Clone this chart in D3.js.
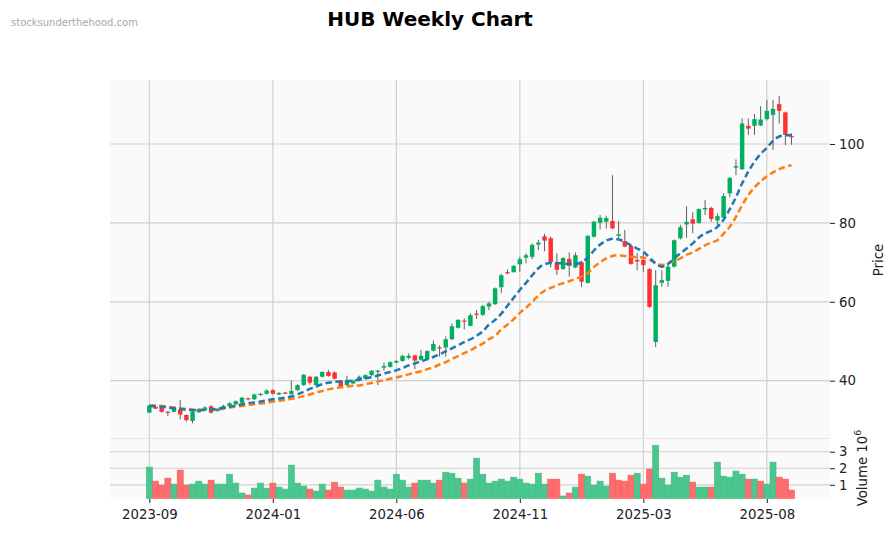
<!DOCTYPE html>
<html><head><meta charset="utf-8">
<script src="https://cdn.jsdelivr.net/npm/d3@7"></script>
<style>body{margin:0;background:#fff}svg{display:block;font-family:"DejaVu Sans",sans-serif}</style>
</head><body><svg id="c" width="895" height="533"></svg>
<script>
const opens=[31.9,33.4,33.2,32.1,32.1,32.7,31.3,29.8,32.0,32.5,
33.5,32.3,33.0,33.6,34.0,34.4,35.5,35.3,36.4,36.7,
37.6,36.5,36.9,36.6,37.6,38.9,41.0,38.9,41.0,42.2,
42.1,40.0,38.9,39.3,40.0,40.5,41.4,42.3,43.3,43.5,
44.6,45.0,45.8,46.4,45.3,45.5,47.6,48.4,48.4,50.5,
53.4,55.2,53.9,57.0,56.7,58.8,59.4,63.7,67.5,67.5,
69.5,71.2,71.4,74.5,76.6,76.1,70.0,68.3,70.9,68.7,
70.0,64.8,76.5,80.0,80.3,80.5,76.7,75.4,74.2,70.6,
70.6,68.3,49.8,64.8,65.3,68.9,76.1,79.6,80.9,80.0,
83.4,83.8,80.6,81.3,87.5,94.0,93.6,104.6,104.6,104.7,
106.3,107.4,110.1,108.0,102.0];
const closes=[33.7,32.9,32.1,31.9,33.2,31.4,30.0,32.1,32.8,33.2,
31.9,32.9,33.6,34.3,34.8,35.7,35.3,36.5,36.6,37.5,
36.7,36.9,36.8,37.4,38.9,41.5,39.5,41.0,42.2,41.2,
40.5,38.5,40.0,40.0,41.0,41.4,42.5,42.5,43.7,44.7,
45.0,46.3,46.3,45.1,46.3,47.5,49.3,48.2,50.5,53.8,
55.4,55.0,56.6,56.7,58.9,59.6,63.4,66.7,67.2,69.1,
70.8,71.8,74.4,75.0,75.5,70.1,68.1,71.1,69.1,71.8,
65.1,76.7,80.3,81.3,81.2,78.6,77.1,74.0,69.6,70.2,
69.3,58.7,64.2,65.5,68.9,75.6,78.9,80.3,79.8,83.5,
83.8,81.0,81.7,86.8,91.4,94.4,105.2,103.9,106.3,106.2,
108.4,108.9,108.4,102.3,101.7];
const highs=[33.9,33.6,33.4,32.3,33.4,35.1,31.4,32.3,33.0,33.5,
33.8,33.1,33.9,34.5,35.0,35.9,35.7,36.7,36.9,37.8,
37.8,37.1,37.1,40.0,39.1,41.7,41.2,41.2,42.4,42.7,
42.3,40.2,41.2,40.3,41.3,41.6,42.7,42.7,44.6,44.9,
45.2,46.5,46.9,46.6,47.8,47.7,50.2,49.0,51.2,54.5,
55.6,55.8,57.1,57.9,59.2,60.0,63.6,67.1,68.2,69.3,
71.4,72.3,74.8,75.7,77.2,76.5,72.3,71.3,72.5,72.5,
70.4,76.9,80.5,82.0,81.8,92.1,80.5,78.2,74.4,72.3,
72.3,68.5,68.0,68.0,69.7,75.8,79.5,84.2,82.7,83.7,
85.8,84.1,82.4,87.5,91.6,96.1,106.5,106.5,107.6,109.6,
111.2,111.2,112.2,108.2,102.7];
const lows=[31.8,32.8,31.9,31.0,32.0,30.2,29.6,29.2,31.8,32.3,
31.7,32.1,32.7,33.4,33.8,34.3,35.0,35.1,36.2,36.5,
36.5,36.3,36.6,36.4,37.4,38.7,39.0,38.7,40.8,41.0,
40.3,38.3,38.6,39.1,39.8,40.3,41.2,38.9,42.5,43.3,
44.4,44.8,45.4,42.9,45.1,45.3,47.4,46.1,46.1,50.3,
53.2,53.0,53.8,55.6,56.4,57.9,59.2,62.2,67.0,67.4,
67.6,69.8,70.8,73.1,72.8,68.7,66.8,68.1,66.4,68.5,
63.7,64.6,76.3,78.4,78.6,78.4,75.6,73.8,69.4,68.0,
67.6,58.5,48.5,63.8,63.8,68.7,75.8,76.2,77.4,79.8,
82.0,80.3,79.0,81.2,86.5,92.1,93.4,102.3,102.3,104.5,
106.0,98.5,105.2,99.7,99.8];
const volumes=[2.07,1.22,0.98,1.40,1.04,1.89,0.98,1.04,1.22,1.04,
1.28,1.04,1.04,1.64,1.10,0.50,0.38,0.80,1.10,0.80,
1.10,0.86,0.74,2.19,1.10,0.92,0.74,0.62,1.04,0.68,
1.16,0.86,0.68,0.68,0.80,0.74,0.62,1.28,0.86,0.74,
1.64,1.28,0.86,1.10,1.28,1.28,1.10,1.28,1.76,1.70,
1.40,1.10,1.34,2.61,1.64,1.10,1.22,1.34,1.22,1.46,
1.34,1.10,1.04,1.70,1.04,1.34,1.34,0.32,0.50,0.86,
1.64,1.52,0.98,1.22,0.92,1.70,1.28,1.22,1.58,1.70,
1.04,1.95,3.39,1.40,0.98,1.76,1.46,1.58,1.16,0.86,
0.86,0.86,2.37,1.52,1.46,1.83,1.64,1.34,1.34,1.22,
1.04,2.37,1.46,1.34,0.68];
const volUp=[1,0,0,0,1,0,0,1,1,1,
0,1,1,1,1,1,0,1,1,1,
0,1,1,1,1,1,0,1,1,0,
0,0,1,1,1,1,1,1,1,1,
1,1,1,0,1,1,1,0,1,1,
1,0,1,1,1,1,1,1,1,1,
1,1,1,1,1,0,0,1,0,1,
0,1,1,1,1,0,0,0,0,1,
0,0,1,1,1,1,1,1,0,1,
1,0,1,1,1,1,1,0,1,0,
1,1,0,0,0];
const maFast=[33.6,33.5,33.4,33.2,33.0,32.8,32.6,32.5,32.5,32.6,
32.7,32.9,33.1,33.4,33.7,34.0,34.3,34.5,34.7,35.0,
35.3,35.5,35.7,36.0,36.5,37.2,37.9,38.5,39.1,39.5,
39.7,39.8,39.9,40.0,40.3,40.6,40.9,41.3,41.8,42.2,
42.6,43.2,43.9,44.4,44.9,45.4,46.0,46.7,47.4,48.2,
49.0,49.8,50.5,51.4,52.5,54.2,55.4,57.0,59.0,61.0,
63.0,64.8,66.7,68.5,69.5,69.8,69.8,69.7,69.6,69.6,
70.0,71.2,73.0,74.5,75.5,76.0,75.8,75.2,74.3,73.5,
72.7,71.2,69.7,68.9,69.6,71.0,72.3,73.5,74.8,76.3,
77.3,78.0,79.0,80.8,83.5,86.5,90.0,93.0,95.5,97.5,
99.0,100.8,101.9,102.2,102.3];
const maSlow=[33.7,33.7,33.6,33.4,33.2,33.0,32.8,32.7,32.6,32.6,
32.6,32.7,32.9,33.2,33.4,33.6,33.8,34.0,34.2,34.4,
34.7,34.9,35.1,35.4,35.7,36.1,36.5,37.0,37.4,37.8,
38.1,38.3,38.5,38.7,38.8,39.1,39.4,39.8,40.1,40.5,
40.8,41.2,41.6,42.0,42.4,42.9,43.4,44.1,44.7,45.5,
46.2,47.0,47.7,48.6,49.4,50.5,51.4,53.0,54.2,55.6,
57.2,58.5,60.0,61.6,62.8,63.5,64.2,64.7,65.2,65.8,
66.4,67.2,68.8,70.0,71.0,71.6,71.8,71.6,71.4,71.3,
71.2,70.6,69.8,69.3,69.8,70.3,71.0,71.9,72.5,73.4,
74.3,75.0,75.6,77.3,79.0,81.5,84.5,87.0,89.0,90.5,
91.8,92.8,93.6,94.2,94.6];
const tickIdx=[0,20,40,60,80,100];
const tickLabels=["2023-09","2024-01","2024-06","2024-11","2025-03","2025-08"];
const priceTicks=[40,60,80,100];
const volTicks=[1,2,3];

const svg=d3.select("#c");
const L=110,R=830,PT=80,PB=438,VT=439,VB=498.5;
const x=d3.scaleLinear().domain([-6.37,110.23]).range([L,R]);
const yP=d3.scaleLinear().domain([25.47,116.22]).range([PB,PT]);
const yV=d3.scaleLinear().domain([0.17,3.77]).range([VB,VT]);
const step=x(1)-x(0);
const UP="#00b060",DN="#fe3032",VUP="#4bc68e",VDN="#fd6d6e";

svg.append("rect").attr("x",L).attr("y",PT).attr("width",R-L).attr("height",PB-PT).attr("fill","#fafafa");
svg.append("rect").attr("x",L).attr("y",VT).attr("width",R-L).attr("height",VB-VT).attr("fill","#fafafa");
svg.append("line").attr("x1",L).attr("x2",R).attr("y1",PB+0.5).attr("y2",PB+0.5).attr("stroke","#e6e6e6");

const grid=svg.append("g").attr("stroke","#d0d0d0").attr("stroke-width",1.2);
tickIdx.forEach(t=>{
  grid.append("line").attr("x1",x(t)).attr("x2",x(t)).attr("y1",PT).attr("y2",PB);
  grid.append("line").attr("x1",x(t)).attr("x2",x(t)).attr("y1",VT).attr("y2",VB);
});
priceTicks.forEach(p=>grid.append("line").attr("x1",L).attr("x2",R).attr("y1",yP(p)).attr("y2",yP(p)));
volTicks.forEach(v=>grid.append("line").attr("x1",L).attr("x2",R).attr("y1",yV(v)).attr("y2",yV(v)));

// volume
const vg=svg.append("g");
volumes.forEach((v,i)=>{
  const c=volUp[i]?VUP:VDN;
  vg.append("rect").attr("x",x(i)-step*0.49).attr("width",step*0.98)
    .attr("y",yV(v)).attr("height",VB-yV(v)).attr("fill",c)
    .attr("stroke",volUp[i]?"#3dbd83":"#f55a5b").attr("stroke-width",0.6);
});

// candles
const cg=svg.append("g");
opens.forEach((o,i)=>{
  const c=closes[i];
  const col=c>=o?UP:DN;
  cg.append("line").attr("x1",x(i)).attr("x2",x(i)).attr("y1",yP(highs[i])).attr("y2",yP(lows[i]))
    .attr("stroke","#606060").attr("stroke-width",1);
  const top=yP(Math.max(o,c)),bot=yP(Math.min(o,c));
  const h=Math.max(bot-top,1.2);
  cg.append("rect").attr("x",x(i)-step*0.36).attr("width",step*0.72)
    .attr("y",(top+bot)/2-h/2).attr("height",h).attr("fill",col);
});

// moving averages
const line=arr=>d3.line().x((d,i)=>x(i)).y(d=>yP(d)).curve(d3.curveMonotoneX)(arr);
svg.append("path").attr("d",line(maSlow)).attr("fill","none").attr("stroke","#ff7f0e")
  .attr("stroke-width",2.5).attr("stroke-dasharray","6.5,3.5");
svg.append("path").attr("d",line(maFast)).attr("fill","none").attr("stroke","#1f77b4")
  .attr("stroke-width",2.5).attr("stroke-dasharray","6.5,3.5");

// axes
const fs="13.3px";
const ax=svg.append("g").attr("transform",`translate(0,${VB+0.5})`)
  .call(d3.axisBottom(x).tickValues(tickIdx).tickFormat((d,i)=>tickLabels[i]).tickSize(4).tickPadding(7));
ax.select(".domain").remove();
const ap=svg.append("g").attr("transform",`translate(${R},0)`)
  .call(d3.axisRight(yP).tickValues(priceTicks).tickFormat(d3.format("d")).tickSize(5).tickPadding(4));
ap.select(".domain").remove();
const av=svg.append("g").attr("transform",`translate(${R},0)`)
  .call(d3.axisRight(yV).tickValues(volTicks).tickFormat(d3.format("d")).tickSize(5).tickPadding(4));
av.select(".domain").remove();
svg.selectAll(".tick text").attr("font-size",fs).attr("fill","#222").attr("font-family","DejaVu Sans");
svg.selectAll(".tick line").attr("stroke","#222");

svg.append("text").attr("transform","translate(883,260) rotate(-90)").attr("text-anchor","middle")
  .attr("font-size",fs).attr("fill","#222").text("Price");
const vt=svg.append("text").attr("transform","translate(867,468) rotate(-90)").attr("text-anchor","middle")
  .attr("font-size",fs).attr("fill","#222");
vt.append("tspan").text("Volume  10");
vt.append("tspan").attr("font-size","9.5px").attr("dy","-6").text("6");

svg.append("text").attr("x",430).attr("y",26).attr("text-anchor","middle").attr("font-size","20px")
  .attr("font-weight","bold").attr("fill","#000").text("HUB Weekly Chart");
svg.append("text").attr("x",11).attr("y",25.5).attr("font-size","10px").attr("fill","#a8a8a8")
  .text("stocksunderthehood.com");
</script></body></html>
